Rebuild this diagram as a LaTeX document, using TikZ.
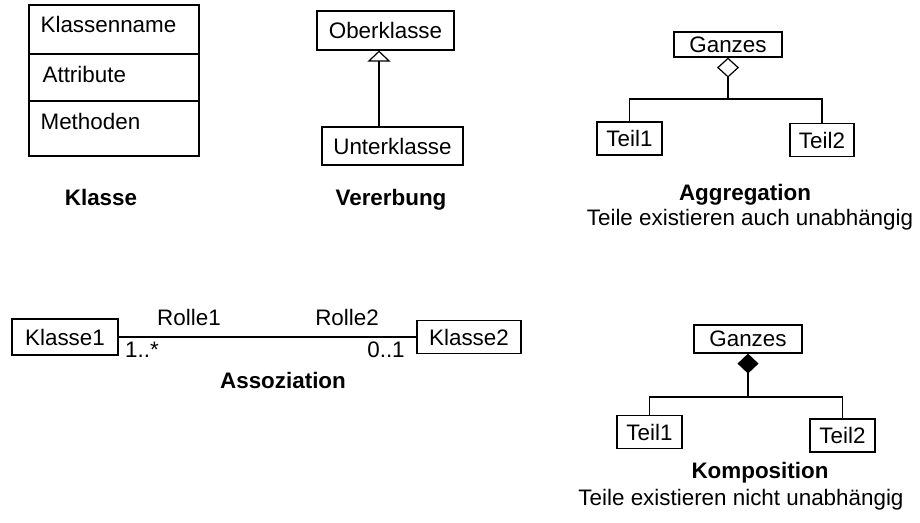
\documentclass[tikz,border=0pt]{standalone}
\usepackage{fontspec}
\setmainfont{Liberation Sans}
\usetikzlibrary{arrows.meta}

\begin{document}
\begin{tikzpicture}[x=0.5pt, y=-0.5pt, line width=0.6pt,
    box/.style={draw, inner sep=0pt, minimum height=16.5pt, font=\fontsize{11.2}{13}\selectfont},
    txt/.style={inner sep=0pt, text height=8pt, text depth=2.4pt, font=\fontsize{11.2}{13}\selectfont},
    titel/.style={txt, font=\fontsize{11.2}{13}\selectfont\bfseries}]
    \useasboundingbox (0,0) rectangle (920,523);

    % Klasse
    \node[box, minimum width=85pt, minimum height=75.5pt] (klasse) at (114,80.5) {};
    \draw (29,54) -- (199,54);
    \draw (29,101) -- (199,101);
    \node[txt, anchor=west] (kname) at (40,27) {Klassenname};
    \node[txt, anchor=west] (kattr) at (42,77) {Attribute};
    \node[txt, anchor=west] (kmeth) at (40,124) {Methoden};
    \node[titel] (tklasse) at (101,200) {Klasse};

    % Vererbung
    \node[box, minimum width=68.5pt, minimum height=19.5pt] (ober) at (385.5,30.5) {Oberklasse};
    \node[box, minimum width=70.5pt, minimum height=19pt] (unter) at (392.5,146) {Unterklasse};
    \coordinate (vx) at (379,0);
    \draw[-{Triangle[open, length=5.5pt, width=11.5pt]}] (vx |- unter.north) -- (vx |- ober.south);
    \node[titel] (tvererb) at (391,200) {Vererbung};

    % Aggregation
    \node[box, minimum width=54pt, minimum height=12.5pt] (ganzesA) at (728,44.5) {Ganzes};
    \node[box, minimum width=32.5pt] (teilA1) at (629.5,138.5) {Teil1};
    \node[box, minimum width=32pt] (teilA2) at (822,140) {Teil2};
    \coordinate (jA) at (728,99);
    \draw[{Diamond[open, length=10pt, width=11pt]}-] (ganzesA.south) -- (jA);
    \draw (teilA1.north) |- (jA) -| (teilA2.north);
    \node[titel] (taggr) at (745,195) {Aggregation};
    \node[txt] (saggr) at (750,220) {Teile existieren auch unabhängig};

    % Assoziation
    \node[box, minimum width=53pt, minimum height=18pt] (klasse1) at (65,337) {Klasse1};
    \node[box, minimum width=52pt] (klasse2) at (469,337) {Klasse2};
    \draw (klasse1) -- (klasse2);
    \node[txt] (rolle1) at (189,320) {Rolle1};
    \node[txt] (rolle2) at (347,320) {Rolle2};
    \node[txt] (mult1) at (142,352) {1..*};
    \node[txt] (mult2) at (386,352) {0..1};
    \node[titel] (tassoz) at (283,383) {Assoziation};

    % Komposition
    \node[box, minimum width=54pt, minimum height=14pt] (ganzesK) at (748,339) {Ganzes};
    \node[box, minimum width=32.5pt] (teilK1) at (649.5,432) {Teil1};
    \node[box, minimum width=32.5pt] (teilK2) at (842.5,435.5) {Teil2};
    \coordinate (jK) at (748,397);
    \draw[{Diamond[length=10pt, width=10.5pt]}-] (ganzesK.south) -- (jK);
    \draw (teilK1.north) |- (jK) -| (teilK2.north);
    \node[titel] (tkompo) at (760,473) {Komposition};
    \node[txt] (skompo) at (741,500) {Teile existieren nicht unabhängig};
\end{tikzpicture}
\end{document}
